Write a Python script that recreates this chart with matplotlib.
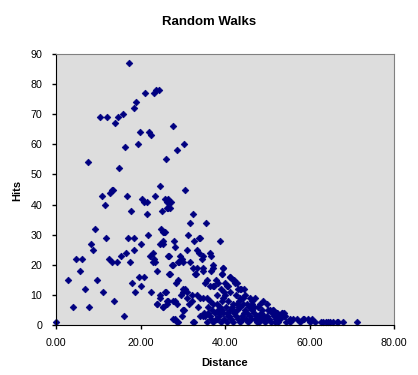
import matplotlib
matplotlib.use("Agg")
import matplotlib.pyplot as plt
from matplotlib.ticker import FormatStrFormatter

plt.rcParams['font.family'] = ['Liberation Sans', 'DejaVu Sans']

# distance / hits pairs
distance = [
    17.3, 7.5, 14.9, 16.4, 19.5, 10.3, 12.1, 14.0, 14.6, 15.9, 18.5, 19.0,
    21.1, 23.2, 23.7, 24.3, 19.9, 22.0, 22.5, 26.1, 27.8, 30.4, 28.7,
    24.5, 11.0, 11.7, 12.8, 13.3, 13.6, 16.9, 17.8, 20.4, 20.9, 21.5, 21.6,
    23.5, 25.8, 26.3, 26.6, 25.1, 9.3, 8.4, 8.8, 11.9, 4.7, 6.2, 5.7, 2.9,
    6.9, 4.1, 7.9, 0.0, 9.8, 11.2, 13.8, 16.2, 12.6, 13.3, 14.4, 15.3, 16.6,
    17.5, 17.0, 18.4, 18.5, 20.1, 21.8, 24.8, 25.3, 25.8, 24.6, 25.4, 22.9,
    22.2, 23.2, 23.5, 22.9, 26.6, 23.8, 26.8, 19.6, 20.9, 18.1, 20.2, 18.8,
    22.6, 25.8, 24.5, 24.0, 25.4, 26.2, 26.6,
    30.5, 26.6, 27.2, 26.8, 26.3, 27.0, 32.5, 31.8, 35.5, 25.6, 25.3, 31.3,
    28.0, 32.7, 33.9, 38.7, 34.1, 28.2, 30.9, 33.3, 33.9, 34.7, 36.4, 36.8,
    34.5, 26.8, 29.3, 29.8, 28.9, 30.0, 31.6, 27.6, 32.5, 33.3, 34.7, 37.2,
    39.5, 36.8, 27.0, 33.1, 39.3, 41.2, 42.1, 42.8, 28.9, 28.4, 35.7, 35.3,
    37.9, 38.4, 37.1, 40.8, 43.6, 44.5, 26.0, 30.5, 30.0, 29.5,
    27.4, 29.2, 34.7, 37.1, 32.9, 36.4, 37.4, 24.6, 30.1, 30.9, 32.1, 33.3,
    34.1, 34.9, 26.2, 28.6, 27.8, 30.1, 35.7, 36.4, 37.2, 38.0, 38.4, 36.0,
    36.9, 28.2, 28.9, 32.5, 34.1, 35.3, 36.4, 35.7, 37.2,
    23.8, 25.4, 28.2, 27.8, 28.6, 30.0, 30.3, 32.7, 32.3, 34.9, 36.0,
    39.5, 39.2, 41.2, 42.0, 42.4, 40.4, 43.1, 43.9, 40.0, 39.6, 39.2, 43.6,
    44.3, 45.9, 47.1, 46.3, 45.1, 44.3, 43.6, 42.8, 42.0, 41.2, 40.4, 39.6,
    48.3, 49.1, 49.9, 50.7, 51.4, 52.2,
    38.5, 39.0, 39.8, 40.5, 41.0, 41.5, 42.0, 42.5, 43.0, 43.5, 44.0, 44.5,
    45.0, 45.5, 46.0, 46.5, 47.0, 47.5, 48.0, 48.5, 49.0, 49.5, 50.0, 50.5,
    51.0, 51.5, 52.0, 52.5, 53.0, 53.5, 54.0, 54.5, 38.0, 37.6, 38.8, 40.2,
    41.8, 43.2, 45.6, 47.8, 46.8, 48.8, 41.2, 42.5, 44.8, 38.2, 39.0, 40.0,
    39.8,
    51.4, 52.2, 53.4, 54.2, 55.4, 57.0, 58.5, 59.7, 61.3, 63.3, 64.9, 66.4,
    68.0, 71.2, 53.2, 54.0, 55.5, 56.2, 57.8, 58.8, 60.0, 60.6, 62.8, 63.8,
    64.4, 65.5, 66.8,
    # extra marks filling the dense band near the x axis
    37.8, 38.6, 39.4, 40.8, 41.6, 42.2, 43.4, 44.2, 45.3, 46.1, 46.9, 47.6,
    48.4, 49.3, 50.2, 51.1, 52.8, 40.6, 42.9, 44.7, 46.4, 48.1, 49.7, 51.8,
    36.6, 35.0, 33.6, 31.4, 29.8, 31.0,
]
hits = [
    87, 54, 52, 59, 60, 69, 69, 67, 69, 70, 72, 74,
    77, 77, 78, 78, 64, 64, 63, 55, 66, 60, 58,
    46, 43, 40, 44, 45, 45, 43, 38, 42, 41, 41, 37,
    43, 42, 41, 39, 38, 32, 27, 25, 29, 22, 22, 18, 15,
    12, 6, 6, 1, 15, 11, 8, 3, 22, 21, 21, 23, 24,
    21, 29, 29, 25, 27, 30, 32, 31, 31, 27, 28, 24,
    23, 22, 21, 21, 23, 18, 17, 16, 16, 14, 13, 11,
    11, 11, 9, 7, 6, 7, 8,
    45, 42, 41, 41, 39, 39, 37, 34, 34, 31, 27, 30,
    28, 28, 29, 28, 29, 26, 25, 25, 24, 23, 24, 23,
    22, 23, 23, 22, 21, 21, 21, 20, 19, 19, 18, 19,
    19, 18, 17, 17, 17, 16, 15, 14, 15, 14, 15, 14,
    15, 14, 13, 13, 12, 12, 11, 12, 11, 10,
    20, 21, 19, 20, 17, 13, 13, 10, 12, 11, 10, 10,
    9, 9, 8, 7, 8, 5, 9, 8, 7, 7, 5, 6,
    5, 2, 1, 1, 3, 3, 3, 1, 1,
    7, 6, 8, 2, 1, 5, 5, 1, 8, 3, 4,
    19, 17, 16, 15, 14, 13, 12, 12, 10, 9, 8, 9,
    9, 9, 9, 8, 7, 7, 6, 5, 5, 5, 4, 4,
    7, 8, 7, 5, 5, 4,
    3, 1, 2, 1, 3, 2, 1, 3, 2, 1, 3, 4,
    2, 1, 3, 5, 2, 1, 3, 4, 2, 1, 3, 2,
    1, 3, 2, 1, 2, 4, 3, 1, 2, 4, 6, 6,
    7, 8, 6, 6, 4, 5, 11, 10, 10, 10, 12, 14,
    11,
    5, 4, 4, 3, 2, 2, 2, 2, 1, 1, 1, 1,
    1, 1, 3, 4, 1, 2, 1, 2, 1, 2, 1, 1,
    1, 1, 1,
    2, 4, 5, 3, 6, 4, 6, 2, 4, 2, 6, 3,
    2, 3, 5, 4, 3, 8, 7, 5, 7, 1, 2, 1,
    2, 4, 6, 7, 3, 9,
]

fig = plt.figure(figsize=(4.18, 3.75), dpi=100)
ax = fig.add_axes([56/418, 1 - 325/375, 338/418, 271/375])
ax.set_facecolor('#DDDDDD')

ax.plot(distance, hits, linestyle='none', marker='D', ms=3.4,
        color='#000080', mec='#000080', mew=0.5, clip_on=False)

ax.set_xlim(0, 80)
ax.set_ylim(0, 90)
ax.set_xticks([0, 20, 40, 60, 80])
ax.set_yticks(range(0, 91, 10))
ax.xaxis.set_major_formatter(FormatStrFormatter('%.2f'))
ax.tick_params(direction='out', length=3, width=1, labelsize=7.7, colors='black')
ax.tick_params(axis='x', pad=6.5)
ax.tick_params(axis='y', pad=7)

for side in ['top', 'right']:
    ax.spines[side].set_color('#808080')
for side in ['left', 'bottom']:
    ax.spines[side].set_color('black')

fig.text(0.5, 1 - 22/375, 'Random Walks', ha='center', va='center',
         fontsize=9.5, weight='bold')
fig.text((56 + 394) / 2 / 418, 1 - 363/375, 'Distance', ha='center', va='center',
         fontsize=8, weight='bold')
fig.text(17/418, 1 - 190/375, 'Hits', ha='center', va='center', rotation=90,
         fontsize=8, weight='bold')

fig.savefig('out.png', dpi=100)
